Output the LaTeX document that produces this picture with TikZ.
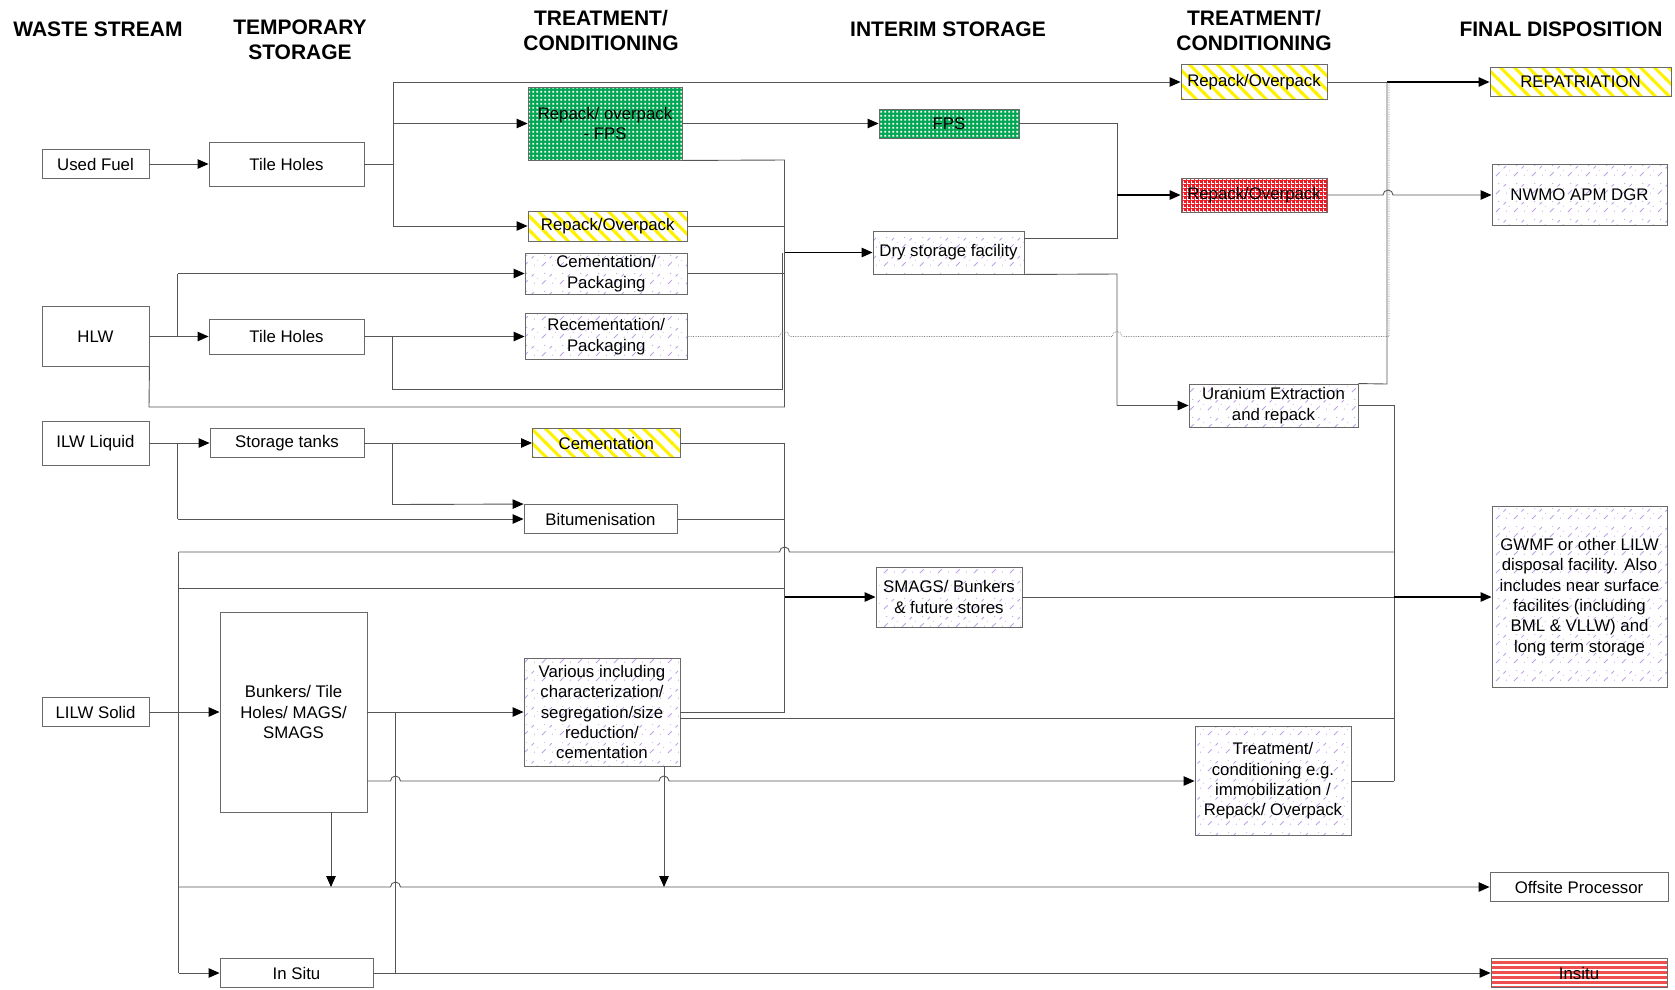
\documentclass[tikz,border=0pt]{standalone}
\usepackage{fontspec}
\setmainfont{Liberation Sans}
\usetikzlibrary{arrows.meta,patterns}
\definecolor{lncol}{RGB}{85,85,85}
\definecolor{boxcol}{RGB}{105,105,105}
\definecolor{greenC}{RGB}{0,166,81}
\definecolor{yelC}{RGB}{255,242,0}
\definecolor{redC}{RGB}{237,28,36}
\definecolor{stripeR}{RGB}{238,80,80}
\definecolor{lavC}{RGB}{190,160,230}
\pgfdeclarepatternformonly{wdots}{\pgfqpoint{0pt}{0pt}}{\pgfqpoint{4pt}{4pt}}{\pgfqpoint{4pt}{4pt}}{%
  \pgfpathrectangle{\pgfqpoint{0.5pt}{0.5pt}}{\pgfqpoint{2pt}{2pt}}\pgfusepath{fill}}
\pgfdeclarepatternformonly{wgrid}{\pgfqpoint{0pt}{0pt}}{\pgfqpoint{3.5pt}{3.5pt}}{\pgfqpoint{3.5pt}{3.5pt}}{%
  \pgfpathrectangle{\pgfqpoint{0pt}{0pt}}{\pgfqpoint{3.5pt}{1pt}}%
  \pgfpathrectangle{\pgfqpoint{0pt}{0pt}}{\pgfqpoint{1pt}{3.5pt}}\pgfusepath{fill}}
\pgfdeclarepatternformonly{hstripes}{\pgfqpoint{-1pt}{0pt}}{\pgfqpoint{11pt}{5pt}}{\pgfqpoint{10pt}{5pt}}{%
  \pgfpathrectangle{\pgfqpoint{-1pt}{0pt}}{\pgfqpoint{12pt}{2.7pt}}\pgfusepath{fill}}
\pgfdeclarepatternformonly{ystripes}{\pgfqpoint{-1pt}{-1pt}}{\pgfqpoint{15pt}{15pt}}{\pgfqpoint{14pt}{14pt}}{%
  \pgfsetlinewidth{3pt}%
  \pgfpathmoveto{\pgfqpoint{-1pt}{15pt}}\pgfpathlineto{\pgfqpoint{15pt}{-1pt}}%
  \pgfpathmoveto{\pgfqpoint{-1pt}{1pt}}\pgfpathlineto{\pgfqpoint{1pt}{-1pt}}%
  \pgfpathmoveto{\pgfqpoint{13pt}{15pt}}\pgfpathlineto{\pgfqpoint{15pt}{13pt}}%
  \pgfusepath{stroke}}
\pgfdeclarepatternformonly{lavtex}{\pgfqpoint{0pt}{0pt}}{\pgfqpoint{18pt}{18pt}}{\pgfqpoint{18pt}{18pt}}{%
  \pgfsetlinewidth{0.9pt}%
  \pgfpathmoveto{\pgfqpoint{2pt}{3pt}}\pgfpathlineto{\pgfqpoint{6pt}{7pt}}%
  \pgfpathmoveto{\pgfqpoint{10pt}{11pt}}\pgfpathlineto{\pgfqpoint{12.5pt}{13.5pt}}%
  \pgfusepath{stroke}%
  \pgfpathcircle{\pgfqpoint{13pt}{4pt}}{0.6pt}%
  \pgfpathcircle{\pgfqpoint{5pt}{14pt}}{0.6pt}%
  \pgfpathcircle{\pgfqpoint{16pt}{9pt}}{0.5pt}%
  \pgfusepath{fill}}
\newcommand\boxfont{\fontsize{16.8}{20.3}\selectfont}
\newcommand\hdrfont{\fontsize{21}{25}\selectfont\bfseries}
\tikzset{
  box/.style={draw=boxcol, line width=0.9pt, fill=white, inner sep=1pt, align=center, font=\boxfont, text=black},
  greenbox/.style={box, fill=none, preaction={fill=greenC}, preaction={pattern=wdots, pattern color=white}},
  yelbox/.style={box, fill=none, preaction={fill=white}, preaction={pattern=ystripes, pattern color=yelC}},
  redbox/.style={box, fill=none, preaction={fill=redC}, preaction={pattern=wgrid, pattern color=white}},
  insbox/.style={box, fill=none, preaction={fill=white}, preaction={pattern=hstripes, pattern color=stripeR}},
  lavbox/.style={box, fill=none, preaction={fill=white}, preaction={pattern=lavtex, pattern color=lavC}},
  hdr/.style={align=center, font=\hdrfont, text=black, inner sep=0pt},
  ln/.style={draw=lncol, line width=0.9pt},
  arr/.style={ln, -{Triangle[length=11pt,width=9.5pt,color=black]}},
  bkarr/.style={draw=black, line width=1.3pt, -{Triangle[length=11pt,width=9.5pt,color=black]}},
  dotln/.style={draw=gray, line width=0.7pt, densely dotted},
}
\begin{document}
\begin{tikzpicture}[x=1pt,y=-1pt]
\useasboundingbox (0,0) rectangle (1675,989);
% headers
\node[hdr] (h1) at (98,29) {WASTE STREAM};
\node[hdr] (h2) at (300,40) {TEMPORARY\\STORAGE};
\node[hdr] (h3) at (601,30) {TREATMENT/\\CONDITIONING};
\node[hdr] (h4) at (948,29) {INTERIM STORAGE};
\node[hdr] (h5) at (1254,30) {TREATMENT/\\CONDITIONING};
\node[hdr] (h6) at (1561,29) {FINAL DISPOSITION};
% column 1
\node[box, minimum width=107pt, minimum height=29pt] (usedfuel) at (95.5,164) {Used Fuel};
\node[box, minimum width=107pt, minimum height=60pt] (hlw) at (95.5,336.5) {HLW};
\node[box, minimum width=107pt, minimum height=44pt] (ilw) at (95.5,443) {ILW Liquid};
\node[box, minimum width=107pt, minimum height=29pt] (lilw) at (95.5,712) {LILW Solid};
% column 2
\node[box, minimum width=155pt, minimum height=44pt] (th1) at (286.5,164) {Tile Holes};
\node[box, minimum width=155pt, minimum height=35pt] (th2) at (286.5,336.5) {Tile Holes};
\node[box, minimum width=154pt, minimum height=29pt] (tanks) at (287,443) {Storage tanks};
\node[box, minimum width=147pt, minimum height=200pt] (bunk) at (293.5,712) {Bunkers/ Tile\\Holes/ MAGS/\\SMAGS};
\node[box, minimum width=153pt, minimum height=29pt] (insitu1) at (296.5,973) {In Situ};
% column 3
\node[greenbox, minimum width=154pt, minimum height=73pt] (rpfps) at (605,123.5) {Repack/ overpack\\- FPS};
\node[yelbox, minimum width=159.5pt, minimum height=30pt] (rp1) at (607.75,226) {Repack/Overpack};
\node[lavbox, minimum width=162.5pt, minimum height=41pt] (cem) at (606.25,273.5) {Cementation/\\Packaging};
\node[lavbox, minimum width=162.5pt, minimum height=46pt] (recem) at (606.25,336.5) {Recementation/\\Packaging};
\node[yelbox, minimum width=147.5pt, minimum height=29pt] (cement) at (606.25,443) {Cementation};
\node[box, minimum width=153pt, minimum height=29pt] (bitu) at (600.5,519) {Bitumenisation};
\node[lavbox, minimum width=156pt, minimum height=108pt] (various) at (602,712) {Various including\\characterization/\\segregation/size\\reduction/\\cementation};
% column 4
\node[greenbox, minimum width=140pt, minimum height=29pt] (fps) at (949,123.5) {FPS};
\node[lavbox, minimum width=151pt, minimum height=43pt] (dry) at (948.5,252.5) {Dry storage facility};
\node[lavbox, minimum width=146pt, minimum height=60pt] (smags) at (949,597) {SMAGS/ Bunkers\\\& future stores};
% column 5
\node[yelbox, minimum width=146pt, minimum height=35pt] (rp2) at (1254,82) {Repack/Overpack};
\node[redbox, minimum width=146pt, minimum height=34pt] (rpred) at (1254,195) {Repack/Overpack};
\node[lavbox, minimum width=169pt, minimum height=43pt] (uran) at (1273.5,405.5) {Uranium Extraction\\and repack};
\node[lavbox, minimum width=156pt, minimum height=109pt] (treat) at (1273,781) {Treatment/\\conditioning e.g.\\immobilization /\\Repack/ Overpack};
% column 6
\node[yelbox, minimum width=181pt, minimum height=29pt] (repat) at (1580.5,82) {REPATRIATION};
\node[lavbox, minimum width=175pt, minimum height=61pt] (nwmo) at (1579.5,195) {NWMO APM DGR};
\node[lavbox, minimum width=175pt, minimum height=181pt] (gwmf) at (1579.5,597) {GWMF or other LILW\\disposal facility. Also\\includes near surface\\facilites (including\\BML \& VLLW) and\\long term storage};
\node[box, minimum width=178pt, minimum height=29pt] (offsite) at (1579,887) {Offsite Processor};
\node[insbox, minimum width=176pt, minimum height=29pt] (insitu2) at (1579,973) {Insitu};
% ---- connectors ----
% used fuel
\draw[arr] (usedfuel.east) -- (th1.west);
\draw[ln] (th1.east) -- (393,164);
\draw[ln] (393,82) -- (393,226);
\draw[arr] (393,82) -- (rp2.west);
\draw[arr] (393,123.5) -- (rpfps.west);
\draw[arr] (393,226) -- (rp1.west);
% HLW
\draw[arr] (hlw.east) -- (th2.west);
\draw[ln] (177.5,336.5) -- (177.5,273.5);
\draw[arr] (177.5,273.5) -- (cem.west);
\draw[arr] (th2.east) -- (recem.west);
\draw[ln] (392,336.5) -- (392,389) -- (782.5,389) -- (782.5,252.5);
\draw[ln] (hlw.south east) -- (149,407) -- (784.5,407) -- (784.5,160) -- (rpfps.south east);
\draw[ln] (rp1.east) -- (784.5,226);
\draw[ln] (cem.east) -- (784.5,273.5);
\draw[bkarr] (784.5,252.5) -- (dry.west);
\draw[dotln] (recem.east) -- (779.5,336.5) arc[start angle=180,end angle=360,radius=5] -- (1112,336.5) arc[start angle=180,end angle=360,radius=5] -- (1389,336.5) -- (1389,82);
% interim to final
\draw[ln] (rp2.east) -- (1387,82);
\draw[bkarr] (1387,82) -- (repat.west);
\draw[arr] (rpfps.east) -- (fps.west);
\draw[ln] (fps.east) -- (1117,123.5) -- (1117,238) -- (1024,238);
\draw[bkarr] (1117,195) -- (rpred.west);
\draw[ln] (dry.south east) -- (1117,274) -- (1117,405.5);
\draw[arr] (1117,405.5) -- (uran.west);
\draw[arr] (rpred.east) -- (1383,195) arc[start angle=180,end angle=360,radius=5] -- (nwmo.west);
\draw[ln] (uran.north east) -- (1387,384) -- (1387,82);
\draw[ln] (uran.east) -- (1394,405.5) -- (1394,781);
% ILW
\draw[arr] (ilw.east) -- (tanks.west);
\draw[ln] (177.5,443) -- (177.5,519);
\draw[arr] (177.5,519) -- (bitu.west);
\draw[ln] (tanks.east) -- (392,443) -- (392,504.5);
\draw[arr] (392,443) -- (cement.west);
\draw[arr] (392,504.5) -- (bitu.north west);
\draw[ln] (cement.east) -- (784.5,443) -- (784.5,712) -- (various.east);
\draw[ln] (bitu.east) -- (784.5,519);
\draw[bkarr] (784.5,597) -- (smags.west);
% LILW
\draw[arr] (lilw.east) -- (bunk.west);
\draw[ln] (178.6,552) -- (178.6,973);
\draw[ln] (178.6,552) -- (779.5,552) arc[start angle=180,end angle=360,radius=5] -- (1394,552);
\draw[ln] (178.6,588) -- (784.5,588);
\draw[arr] (178.6,887) -- (390.5,887) arc[start angle=180,end angle=360,radius=5] -- (offsite.west);
\draw[arr] (178.6,973) -- (insitu1.west);
\draw[arr] (bunk.east) -- (various.west);
\draw[arr] (367,781) -- (390.5,781) arc[start angle=180,end angle=360,radius=5] -- (659,781) arc[start angle=180,end angle=360,radius=5] -- (treat.west);
\draw[arr] (bunk.south -| 331,0) -- (331,887);
\draw[ln] (insitu1.east) -- (395.5,973) -- (395.5,712);
\draw[arr] (insitu1.east) -- (insitu2.west);
\draw[ln] (680,718) -- (1394,718);
\draw[arr] (various.south -| 664,0) -- (664,887);
\draw[ln] (smags.east) -- (1394,597);
\draw[bkarr] (1394,597) -- (gwmf.west);
\draw[ln] (treat.east) -- (1394,781);
\end{tikzpicture}
\end{document}
